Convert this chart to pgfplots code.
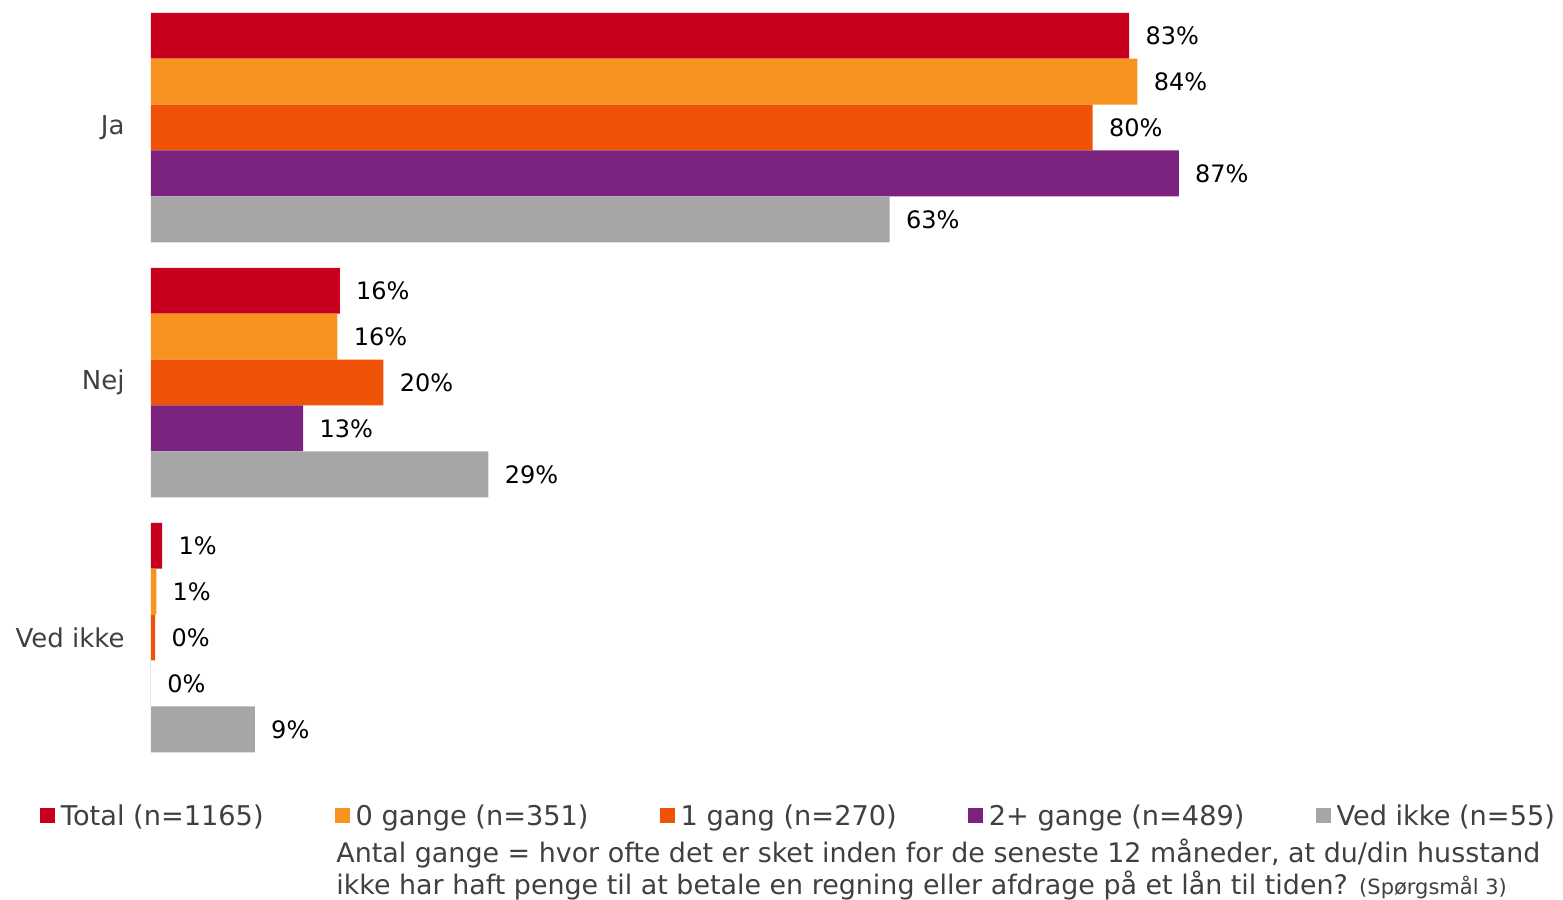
\documentclass[border=0pt]{standalone}
\usepackage{pgfplots}
\pgfplotsset{compat=1.18}
\usepackage{fontspec}
\setmainfont{DejaVu Sans}

\definecolor{cTotal}{HTML}{C8001E}
\definecolor{cNul}{HTML}{F7931E}
\definecolor{cEn}{HTML}{EF5307}
\definecolor{cTo}{HTML}{7B237E}
\definecolor{cVed}{HTML}{A6A6A6}
\definecolor{txt}{HTML}{404040}

\pgfplotsset{
  sq/.style={legend image code/.code={\fill[##1] (0pt,-3.2pt) rectangle (7.5pt,4.3pt);}},
}

\begin{document}
\begin{tikzpicture}
% frame of the full picture
\path (-75.5pt,382.5pt) rectangle (706pt,-67pt);
\begin{axis}[
    scale only axis,
    width=590pt, height=382.5pt,
    xmin=0, xmax=100,
    ymin=-0.5, ymax=2.5,
    axis line style={draw=none},
    major tick length=0pt,
    xtick=\empty,
    ytick={0,1,2},
    yticklabels={Ved ikke,Nej,Ja},
    yticklabel style={font=\fontsize{13}{15}\selectfont, text=txt, inner sep=0pt, xshift=-13pt},
    bar width=0.18,
    point meta=explicit symbolic,
    nodes near coords={\pgfplotspointmeta\%},
    every node near coord/.append style={anchor=west, inner sep=0pt, xshift=8pt,
        font=\fontsize{12}{14}\selectfont, text=black},
    clip=false,
    legend columns=5,
    legend style={at={(axis description cs:0,0)}, anchor=west,
        xshift=-55.5pt, yshift=-26pt,
        draw=none, inner sep=0pt, outer sep=0pt,
        font=\fontsize{13.6}{16}\selectfont, text=txt,
        nodes={inner sep=1.5pt},
        /tikz/every odd column/.append style={column sep=1.5pt},
        /tikz/every even column/.append style={column sep=34pt}},
]

% each bar sits at its group position (Ja=2, Nej=1, Ved ikke=0) plus its own offset
\addplot[xbar, sq, fill=cTotal, draw=none, bar shift=0pt]
    coordinates {(82.9,2.36) [83] (16.0,1.36) [16] (0.95,0.36) [1]};
\addlegendentry{Total (n=1165)}
\addplot[xbar, sq, fill=cNul, draw=none, bar shift=0pt]
    coordinates {(83.6,2.18) [84] (15.8,1.18) [16] (0.45,0.18) [1]};
\addlegendentry{0 gange (n=351)}
\addplot[xbar, sq, fill=cEn, draw=none, bar shift=0pt]
    coordinates {(79.8,2) [80] (19.7,1) [20] (0.35,0) [0]};
\addlegendentry{1 gang (n=270)}
\addplot[xbar, sq, fill=cTo, draw=none, bar shift=0pt]
    coordinates {(87.1,1.82) [87] (12.9,0.82) [13] (0,-0.18) [0]};
\addlegendentry{2+ gange (n=489)}
\addplot[xbar, sq, fill=cVed, draw=none, bar shift=0pt]
    coordinates {(62.6,1.64) [63] (28.6,0.64) [29] (8.8,-0.36) [9]};
\addlegendentry{Ved ikke (n=55)}

\node[anchor=north west, align=left, inner sep=0pt, xshift=92.5pt, yshift=-36.5pt,
      font=\fontsize{13.45}{16}\selectfont, text=txt] at (rel axis cs:0,0)
  {Antal gange = hvor ofte det er sket inden for de seneste 12 måneder, at du/din husstand\\
   ikke har haft penge til at betale en regning eller afdrage på et lån til tiden? {\fontsize{10.5}{16}\selectfont(Spørgsmål 3)}};
\end{axis}
\end{tikzpicture}
\end{document}
